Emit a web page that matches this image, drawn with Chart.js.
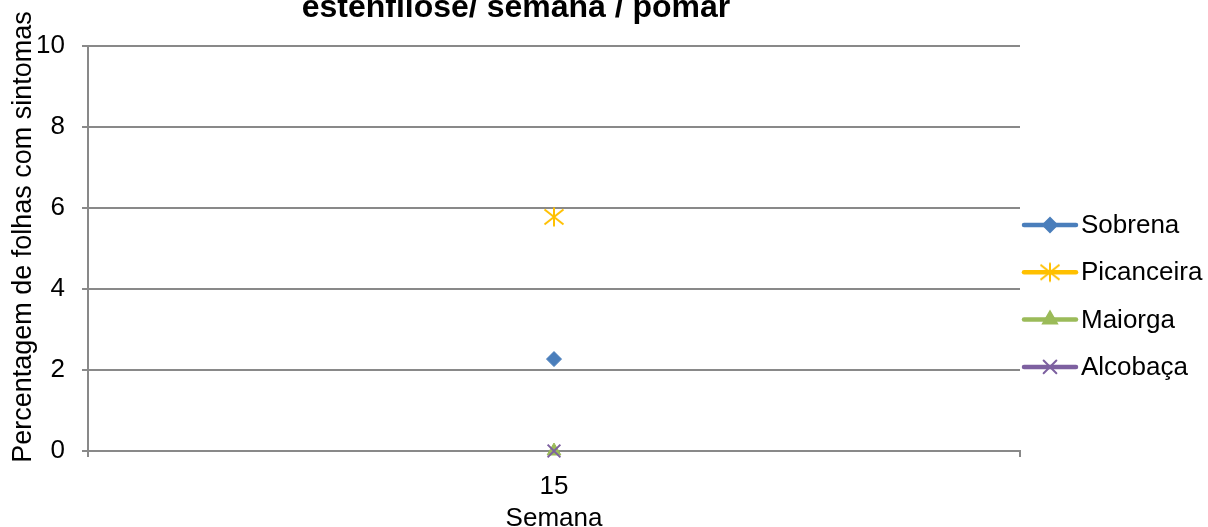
<!DOCTYPE html>
<html>
<head>
<meta charset="utf-8">
<script src="https://cdn.jsdelivr.net/npm/chart.js@4"></script>
<style>
html,body{margin:0;padding:0;background:#fff;}
#wrap{width:1208px;height:527px;position:relative;}
</style>
</head>
<body>
<div id="wrap"><canvas id="c" width="1208" height="527"></canvas></div>
<script>
const categories = ["15"];
const seriesNames = ["Sobrena", "Picanceira", "Maiorga", "Alcobaça"];
const sobrena = [2.27];
const picanceira = [5.78];
const maiorga = [0];
const alcobaca = [0];
const yTicks = [0, 2, 4, 6, 8, 10];
const titleText = "estenfilose/ semana / pomar";
const yTitle = "Percentagem de folhas com sintomas";
const xTitle = "Semana";

const colors = ["#4A7EBB", "#FFC000", "#9BBB59", "#7D60A0"];
const FONT = "'Liberation Sans', Arial, sans-serif";

// Excel-like star marker (vertical bar + X)
function makeStar(color) {
  const c = document.createElement('canvas');
  c.width = 24; c.height = 24;
  const g = c.getContext('2d');
  g.strokeStyle = color; g.lineWidth = 2; g.lineCap = 'butt';
  g.beginPath();
  g.moveTo(12, 2.5); g.lineTo(12, 21.5);
  g.moveTo(2.5, 4.5); g.lineTo(21.5, 19.5);
  g.moveTo(2.5, 19.5); g.lineTo(21.5, 4.5);
  g.stroke();
  return c;
}
const starImg = makeStar(colors[1]);

const styles = ["rectRot", starImg, "triangle", "crossRot"];
const radii = [7.5, 10, 8, 9];
const values = [sobrena, picanceira, maiorga, alcobaca];

const datasets = seriesNames.map((n, i) => ({
  label: n,
  data: values[i],
  borderColor: colors[i],
  backgroundColor: colors[i],
  pointStyle: styles[i],
  pointRadius: radii[i],
  pointBorderWidth: i === 3 ? 2 : 1,
  borderWidth: 3,
  showLine: false,
  clip: false,
  order: 4 - i
}));

const textPlugin = {
  id: 'texts',
  afterDraw(chart) {
    const ctx = chart.ctx;
    const ca = chart.chartArea;
    ctx.save();
    // main title (its first line lies above the picture)
    ctx.font = "bold 32px " + FONT;
    ctx.fillStyle = "#000";
    ctx.textAlign = "center";
    ctx.textBaseline = "alphabetic";
    ctx.fillText(titleText, 516, 17);
    // y axis title
    ctx.save();
    ctx.translate(31, 237);
    ctx.rotate(-Math.PI / 2);
    ctx.font = "27px " + FONT;
    ctx.textAlign = "center";
    ctx.textBaseline = "alphabetic";
    ctx.fillText(yTitle, 0, 0);
    ctx.restore();
    // x axis title
    ctx.font = "26px " + FONT;
    ctx.textAlign = "center";
    ctx.textBaseline = "alphabetic";
    ctx.fillText(xTitle, (ca.left + ca.right) / 2, 526);
    // legend
    chart.data.datasets.forEach((ds, i) => {
      const y = 225 + i * 47.3;
      ctx.strokeStyle = ds.borderColor;
      ctx.lineWidth = 4.5;
      ctx.lineCap = 'round';
      ctx.beginPath();
      ctx.moveTo(1024, y);
      ctx.lineTo(1076, y);
      ctx.stroke();
      ctx.fillStyle = ds.backgroundColor;
      ctx.strokeStyle = ds.borderColor;
      ctx.lineWidth = 2;
      const r = i === 0 ? 7 : ds.pointRadius;
      Chart.helpers.drawPoint(ctx, {pointStyle: ds.pointStyle, radius: r, rotation: 0, borderWidth: 2}, 1050, y);
      ctx.fillStyle = "#000";
      ctx.font = "26px " + FONT;
      ctx.textAlign = "left";
      ctx.textBaseline = "middle";
      ctx.fillText(ds.label, 1081, y + 1);
    });
    ctx.restore();
  }
};

new Chart(document.getElementById('c'), {
  type: 'line',
  data: { labels: categories, datasets: datasets },
  plugins: [textPlugin],
  options: {
    responsive: false,
    animation: false,
    layout: { padding: { left: 0, right: 188, top: 46, bottom: 0 } },
    plugins: { legend: { display: false }, tooltip: { enabled: false }, title: { display: false } },
    scales: {
      x: {
        type: 'category',
        offset: true,
        grid: { offset: true, drawOnChartArea: false, drawTicks: true, tickLength: 6, color: '#898989', lineWidth: 2 },
        border: { display: true, color: '#898989', width: 2 },
        ticks: { color: '#000', font: { size: 26, family: FONT }, padding: 14 },
        afterFit(s) { s.height = 76; }
      },
      y: {
        min: 0, max: 10,
        afterBuildTicks(s) { s.ticks = yTicks.map(v => ({ value: v })); },
        grid: { color: '#898989', lineWidth: 2, tickLength: 6 },
        border: { display: true, color: '#898989', width: 2 },
        ticks: { color: '#000', font: { size: 26, family: FONT }, padding: 17 },
        afterFit(s) { s.width = 88; }
      }
    }
  }
});
</script>
</body>
</html>
